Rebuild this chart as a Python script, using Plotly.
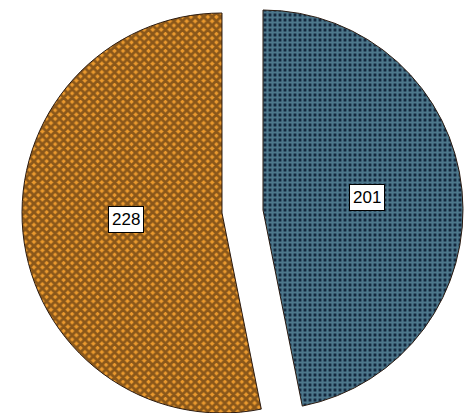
import math
import plotly.graph_objects as go

labels = ["A", "B"]
values = [201, 228]
fg_colors = ["#86c6d8", "#2a1406"]
bg_colors = ["#14283f", "#eb9a2e"]
shapes = ["+", "x"]
pattern_sizes = [5, 6]
solidities = [0.68, 0.72]

W, H = 473, 413
# per-slice pie placement (centre in px, radius in px) to mimic the exploded layout
centres = [(263, 210), (222, 213)]
R = 200

total = sum(values)
fig = go.Figure()
start = 0.0
for i, v in enumerate(values):
    cx, cy = centres[i]
    xm, ym = cx / W, 1 - cy / H
    hw, hh = R / W, R / H
    vis = [j == i for j in range(len(values))]
    fig.add_trace(go.Pie(
        labels=labels,
        values=values,
        sort=False,
        direction="clockwise",
        rotation=0,
        textinfo="none",
        hoverinfo="label+value",
        domain=dict(x=[xm - hw, xm + hw], y=[max(0, ym - hh), min(1, ym + hh)]),
        marker=dict(
            colors=[bg_colors[j] if vis[j] else "rgba(0,0,0,0)" for j in range(len(values))],
            line=dict(color=["#2a1a10" if vis[j] else "rgba(0,0,0,0)" for j in range(len(values))], width=1),
            pattern=dict(
                shape=[shapes[j] if vis[j] else "" for j in range(len(values))],
                fgcolor=[fg_colors[j] if vis[j] else "rgba(0,0,0,0)" for j in range(len(values))],
                bgcolor=[bg_colors[j] if vis[j] else "rgba(0,0,0,0)" for j in range(len(values))],
                size=pattern_sizes[i],
                solidity=solidities[i],
                fillmode="overlay",
            ),
        ),
        showlegend=False,
    ))
    # label box along the slice bisector
    mid = (start + v / 2) / total * 2 * math.pi
    d = 0.5 * R
    lx = cx + d * math.sin(mid) + 4
    ly = cy - d * math.cos(mid) - 3
    fig.add_annotation(
        x=lx / W, y=1 - ly / H, xref="paper", yref="paper",
        xanchor="center", yanchor="middle",
        text=str(v), showarrow=False,
        font=dict(family="Liberation Sans, Arial", size=17, color="black"),
        bgcolor="white", bordercolor="black", borderwidth=1, borderpad=3,
    )
    start += v

fig.update_layout(
    width=W, height=H,
    margin=dict(l=0, r=0, t=0, b=0),
    paper_bgcolor="white",
)
fig.write_html("out.html")
